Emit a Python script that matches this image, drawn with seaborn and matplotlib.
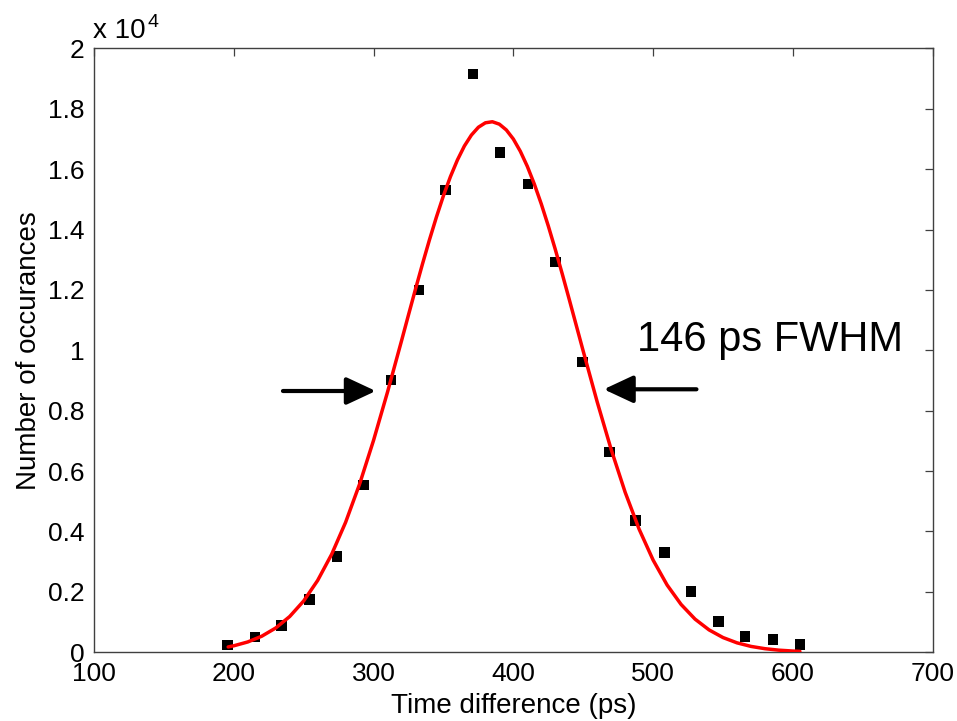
import matplotlib
matplotlib.use("Agg")
import matplotlib.pyplot as plt
import seaborn as sns
import pandas as pd
from matplotlib.ticker import FuncFormatter, FixedLocator

# ---- data ----
time_ps = [195.7, 215.2, 234.3, 254.0, 273.8, 293.0, 312.4, 332.4, 351.6, 371.1, 390.4,
           410.4, 430.2, 449.6, 468.6, 487.4, 508.0, 527.1, 546.6, 565.7, 585.7, 605.2]
counts = [240, 500, 894, 1755, 3166, 5540, 9016, 12000, 15308, 19149, 16543,
          15507, 12924, 9613, 6632, 4358, 3298, 2007, 1013, 517, 430, 265]

fit_time_ps = [196, 200, 210, 220, 230, 240, 250, 260, 270, 280, 290, 300, 310, 320, 325,
               330, 335, 340, 345, 350, 355, 360, 365, 370, 375, 380, 385, 390, 395, 400,
               405, 410, 415, 420, 425, 430, 435, 440, 445, 450, 460, 470, 480,
               490, 500, 510, 520, 530, 540, 550, 560, 570, 580, 590, 600, 605]
fit_counts = [177, 215, 342, 532, 804, 1184, 1699, 2378, 3242, 4303, 5568, 7018, 8618,
              10312, 11173, 12025, 12858, 13659, 14416, 15119, 15750, 16302, 16766, 17127,
              17386, 17533, 17568, 17488, 17296, 16996, 16590, 16091, 15506, 14845, 14119,
              13343, 12528, 11684, 10828, 9971, 8290, 6714, 5298, 4075, 3053, 2228, 1585,
              1098, 742, 488, 313, 195, 119, 70, 41, 31]

x_ticks = [100, 200, 300, 400, 500, 600, 700]
y_ticks = [0, 2000, 4000, 6000, 8000, 10000, 12000, 14000, 16000, 18000, 20000]
annotation_text = "146 ps FWHM"
x_label = "Time difference (ps)"
y_label = "Number of occurances"

pts = pd.DataFrame({"t": time_ps, "n": counts})
fit = pd.DataFrame({"t": fit_time_ps, "n": fit_counts})

sns.set_style("white")
plt.rcParams["font.family"] = ["Liberation Sans", "DejaVu Sans"]
plt.rcParams["text.color"] = "black"
plt.rcParams["axes.labelcolor"] = "black"

fig = plt.figure(figsize=(9.57, 7.21), dpi=100)
ax = fig.add_axes([0.0982, 0.0953, 0.8764, 0.8377])

sns.scatterplot(data=pts, x="t", y="n", marker="s", s=58, color="black",
                edgecolor="none", linewidth=0, ax=ax, zorder=2, legend=False)
sns.lineplot(data=fit, x="t", y="n", color="#ff0000", linewidth=2.5, ax=ax,
             zorder=3, legend=False)

ax.set_xlim(x_ticks[0], x_ticks[-1])
ax.set_ylim(y_ticks[0], y_ticks[-1])
ax.xaxis.set_major_locator(FixedLocator(x_ticks))
ax.yaxis.set_major_locator(FixedLocator(y_ticks))
ax.yaxis.set_major_formatter(FuncFormatter(lambda v, p: f"{v/1e4:g}"))

ax.tick_params(direction="in", length=6, width=0.9, top=True, right=True,
               labelsize=19, color="#404040", labelcolor="black", pad=7)
for sp in ax.spines.values():
    sp.set_visible(True)
    sp.set_color("#404040")
    sp.set_linewidth(1.0)

ax.set_xlabel(x_label, fontsize=20, labelpad=5)
ax.set_ylabel(y_label, fontsize=20, labelpad=4)

# multiplier
fig.text(93 / 957, 1 - 37.7 / 721, "x 10", fontsize=20, ha="left", va="baseline")
fig.text(148 / 957, 1 - 27 / 721, "4", fontsize=14, ha="left", va="baseline")

# arrows and annotation
arrow_kw = dict(arrowstyle="-|>,head_length=0.9,head_width=0.42", color="black",
                lw=3.0, shrinkA=0, shrinkB=0, mutation_scale=20)
ax.annotate("", xy=(301.6, 8652), xytext=(235.2, 8652), arrowprops=arrow_kw)
ax.annotate("", xy=(464.7, 8709), xytext=(531.0, 8709), arrowprops=arrow_kw)
ax.text(488.6, 9987, annotation_text, fontsize=30, ha="left", va="baseline")

fig.savefig("out.png", dpi=100)
